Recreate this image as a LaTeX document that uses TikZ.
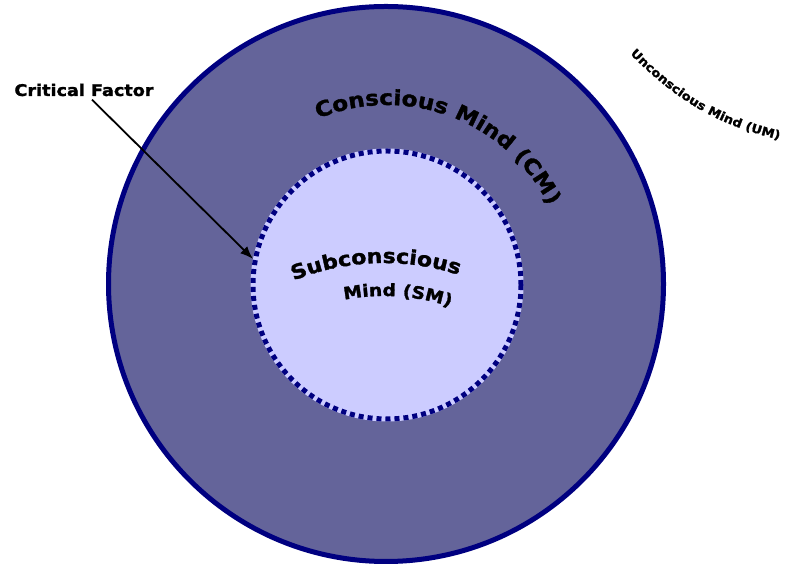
\documentclass[tikz,border=0pt]{standalone}
\usepackage{fontspec}
\usepackage{tikz}
\usetikzlibrary{arrows.meta,decorations.text}

\newfontfamily\blackfont{DejaVu Sans}[FakeStretch=1.1,FakeBold=1.6]
\newcommand{\heavy}[1]{\blackfont\bfseries\fontsize{#1}{#1}\selectfont}

\definecolor{navy}{RGB}{0,0,128}
\definecolor{cmfill}{RGB}{100,100,154}
\definecolor{smfill}{RGB}{204,204,255}

\begin{document}
\begin{tikzpicture}[
  x=1pt, y=1pt,
  mind/.style={circle, draw=navy, line width=5pt, inner sep=0pt},
  curved/.style={decorate, decoration={text along path, text color=black, text={#1}}},
  arrow/.style={-{Latex[length=13pt,width=10pt]}, line width=1.8pt}
]
  \useasboundingbox (0,0) rectangle (794,569);

  % the two minds
  \node[mind, fill=cmfill, minimum size=555pt] (cm) at (386,285) {};
  \node[mind, fill=smfill, dash pattern=on 5pt off 4pt,
        preaction={draw=smfill, solid}, minimum size=268pt] (sm) at (387,284) {};

  % labels bent round the circles
  \coordinate (smc) at (384,65);
  \path[curved={|\heavy{21}|Conscious Mind (CM)}]
    (sm.center) ++(112.5:180) arc[start angle=112.5, end angle=-10, radius=180];
  \path[curved={|\heavy{20}|Subconscious}]
    (smc) ++(112:241) arc[start angle=112, end angle=40, radius=241];
  \path[curved={|\heavy{17}|Mind (SM)}]
    (smc) ++(101:208) arc[start angle=101, end angle=50, radius=208];
  \path[curved={|\heavy{12}|Unconscious Mind (UM)}]
    (630,515) to[bend right=17] (800,425);

  \node[font=\heavy{16}] (cf) at (84,479) {Critical Factor};
  \draw[arrow] ([xshift=8pt]cf.south) -- (sm.169);
\end{tikzpicture}
\end{document}
